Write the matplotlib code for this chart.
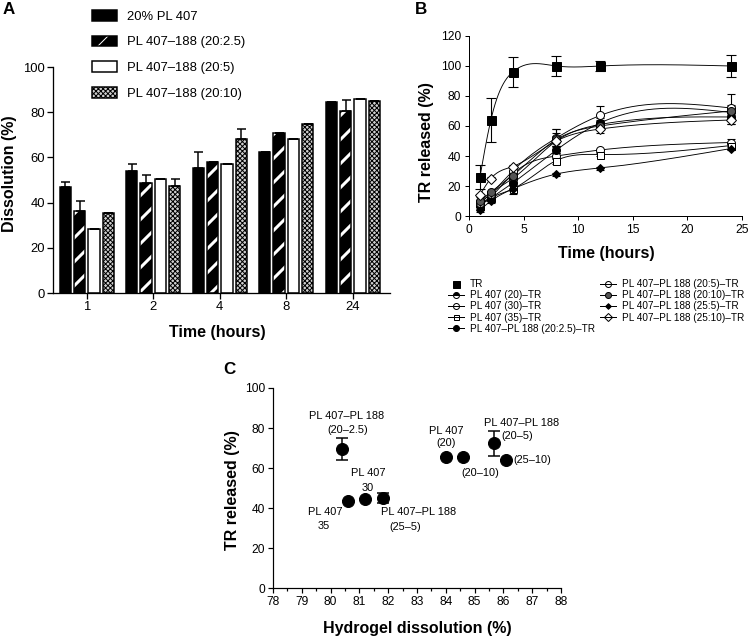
import numpy as np
import matplotlib
matplotlib.use("Agg")
import matplotlib.pyplot as plt
from matplotlib.patches import Rectangle
from matplotlib.lines import Line2D
from matplotlib.ticker import MultipleLocator

plt.rcParams['font.family'] = ['Liberation Sans', 'DejaVu Sans']

# ---------------- panel A data ----------------
a_times = ['1', '2', '4', '8', '24']
a_names = ['20% PL 407', 'PL 407\u2013188 (20:2.5)', 'PL 407\u2013188 (20:5)', 'PL 407\u2013188 (20:10)']
a_pl407 = [47, 54, 55.5, 62.5, 84.5]
a_pl407_err = [2, 3, 7, 0, 0]
a_25 = [36.5, 48.5, 58, 71, 80.5]
a_25_err = [4, 3.5, 0, 0, 5]
a_5 = [28.5, 50.5, 57, 68, 86]
a_5_err = [0, 0, 0, 0, 0]
a_10 = [35.5, 47.5, 68, 75, 85]
a_10_err = [0, 3, 4.5, 0, 0]

# ---------------- panel B data ----------------
b_time = [1, 2, 4, 8, 12, 24]
b_tr = [26, 64, 96, 100, 100, 100]
b_tr_err = [8, 14.5, 10, 6.5, 3.5, 7.5]
b_pl20 = [8, 15, 25, 50, 61, 66]
b_pl20_err = [1, 1, 2, 8, 3, 5]
b_pl30 = [8, 13, 28, 40, 44, 49]
b_pl30_err = [1, 1, 2, 2, 1, 2]
b_pl35 = [7, 12, 18, 37, 41, 47]
b_pl35_err = [1, 1, 3, 2, 1, 2]
b_m25 = [7, 12, 22, 44, 62, 69]
b_m25_err = [1, 2, 2, 3, 3, 4]
b_m5 = [9, 15, 30, 52, 67, 72]
b_m5_err = [2, 2, 3, 6, 6, 9]
b_m10 = [10, 16, 27, 51, 60, 70]
b_m10_err = [1, 1, 2, 4, 3, 4]
b_m255 = [4, 10, 18, 28, 32, 45]
b_m255_err = [1, 1, 1, 1, 1, 1]
b_m2510 = [14, 25, 33, 50, 58, 64]
b_m2510_err = [1, 1, 1, 3, 3, 3]
b_labels = ['TR', 'PL 407 (20)\u2013TR', 'PL 407 (30)\u2013TR', 'PL 407 (35)\u2013TR',
            'PL 407\u2013PL 188 (20:2.5)\u2013TR', 'PL 407\u2013PL 188 (20:5)\u2013TR',
            'PL 407\u2013PL 188 (20:10)\u2013TR', 'PL 407\u2013PL 188 (25:5)\u2013TR',
            'PL 407\u2013PL 188 (25:10)\u2013TR']

# ---------------- panel C data ----------------
c_diss = [80.41, 80.62, 81.19, 81.81, 84.0, 84.61, 85.69, 86.09]
c_rel = [69.5, 43.7, 44.3, 45.2, 65.7, 65.3, 72.3, 64.0]
c_err = [5.6, 0, 0, 2.5, 0, 0, 6.2, 0]
c_notes = [('PL 407\u2013PL 188', 80.55, 86.0), ('(20\u20132.5)', 80.58, 79.0),
           ('PL 407', 84.0, 78.7), ('(20)', 84.0, 72.3),
           ('PL 407\u2013PL 188', 86.62, 82.7), ('(20\u20135)', 86.49, 76.2),
           ('(25\u201310)', 87.02, 64.0), ('(20\u201310)', 85.2, 57.7),
           ('PL 407', 81.31, 57.3), ('30', 81.3, 50.2),
           ('PL 407', 79.82, 38.2), ('35', 79.76, 31.0),
           ('PL 407\u2013PL 188', 83.04, 38.2), ('(25\u20135)', 82.6, 30.7)]


def spline(x, y, n=300):
    # natural cubic spline, only used to draw the smooth connecting line
    x = np.asarray(x, float)
    y = np.asarray(y, float)
    h = np.diff(x)
    m = len(x)
    A = np.zeros((m, m))
    r = np.zeros(m)
    A[0, 0] = A[-1, -1] = 1
    for i in range(1, m - 1):
        A[i, i - 1] = h[i - 1]
        A[i, i] = 2 * (h[i - 1] + h[i])
        A[i, i + 1] = h[i]
        r[i] = 3 * ((y[i + 1] - y[i]) / h[i] - (y[i] - y[i - 1]) / h[i - 1])
    c = np.linalg.solve(A, r)
    b = (y[1:] - y[:-1]) / h - h * (2 * c[:-1] + c[1:]) / 3
    d = (c[1:] - c[:-1]) / (3 * h)
    xs = np.linspace(x[0], x[-1], n)
    idx = np.clip(np.searchsorted(x, xs) - 1, 0, m - 2)
    dx = xs - x[idx]
    return xs, y[idx] + b[idx] * dx + c[idx] * dx ** 2 + d[idx] * dx ** 3


fig = plt.figure(figsize=(749 / 72, 637 / 72), dpi=72)

# ======================= A =======================
axA = fig.add_axes([0.0708, 0.5400, 0.4499, 0.3548])
g = np.arange(len(a_times))
pitch = 0.215
w = 0.17
lw = 1.5
xs = [g + (k - 1.5) * pitch for k in range(4)]

axA.bar(xs[0], a_pl407, w, color='black', edgecolor='black', linewidth=lw, zorder=2)
with plt.rc_context({'hatch.linewidth': 3.0}):
    axA.bar(xs[1], a_25, w, facecolor='black', edgecolor='white', hatch='/', linewidth=0, zorder=2)
axA.bar(xs[1], a_25, w, fill=False, edgecolor='black', linewidth=lw, zorder=3)
axA.bar(xs[2], a_5, w, facecolor='white', edgecolor='black', linewidth=lw, zorder=2)
with plt.rc_context({'hatch.linewidth': 1.0}):
    axA.bar(xs[3], a_10, w, facecolor='#d0d0d0', edgecolor='black', hatch='xxxxx', linewidth=0, zorder=2)
axA.bar(xs[3], a_10, w, fill=False, edgecolor='black', linewidth=lw, zorder=3)

for xx, yy, ee in zip(xs, [a_pl407, a_25, a_5, a_10], [a_pl407_err, a_25_err, a_5_err, a_10_err]):
    axA.errorbar(xx, yy, yerr=[np.zeros(len(ee)), ee], fmt='none', ecolor='black',
                 elinewidth=1.5, capsize=4.5, capthick=1.5, zorder=4)

axA.set_xlim(-0.507, 4.56)
axA.set_ylim(0, 100)
axA.set_xticks(g)
axA.set_xticklabels(a_times)
axA.set_yticks(np.arange(0, 101, 20))
for s in ['top', 'right']:
    axA.spines[s].set_visible(False)
for s in ['left', 'bottom']:
    axA.spines[s].set_linewidth(1.3)
axA.tick_params(labelsize=13, length=6, width=1.3, pad=2)
axA.text(-0.1306, 0.53, 'Dissolution (%)', transform=axA.transAxes, rotation=90,
         ha='center', va='center', fontsize=16, fontweight='bold')
axA.text(0.487, -0.173, 'Time (hours)', transform=axA.transAxes,
         ha='center', va='center', fontsize=16, fontweight='bold')

hA = [Rectangle((0, 0), 1, 1, facecolor='black', edgecolor='black', linewidth=lw)]
with plt.rc_context({'hatch.linewidth': 3.0}):
    hA.append((Rectangle((0, 0), 1, 1, facecolor='black', edgecolor='white', hatch='/', linewidth=0),
               Rectangle((0, 0), 1, 1, fill=False, edgecolor='black', linewidth=lw)))
hA.append(Rectangle((0, 0), 1, 1, facecolor='white', edgecolor='black', linewidth=lw))
with plt.rc_context({'hatch.linewidth': 1.0}):
    hA.append((Rectangle((0, 0), 1, 1, facecolor='#d0d0d0', edgecolor='black', hatch='xxxxx', linewidth=0),
               Rectangle((0, 0), 1, 1, fill=False, edgecolor='black', linewidth=lw)))
fig.legend(hA, a_names, loc='upper left', bbox_to_anchor=(0.1228, 0.985), frameon=False,
           fontsize=13, handlelength=1.9, handleheight=0.92, handletextpad=0.77,
           labelspacing=1.0, borderpad=0, borderaxespad=0)

# ======================= B =======================
axB = fig.add_axes([0.6262, 0.6609, 0.3645, 0.2826])
b_series = [b_tr, b_pl20, b_pl30, b_pl35, b_m25, b_m5, b_m10, b_m255, b_m2510]
b_errs = [b_tr_err, b_pl20_err, b_pl30_err, b_pl35_err, b_m25_err, b_m5_err, b_m10_err,
          b_m255_err, b_m2510_err]
b_style = [dict(marker='s', ms=9, mfc='black'),
           dict(marker='o', ms=8, mfc='black', fillstyle='top', mfcalt='white'),
           dict(marker='o', ms=8, mfc='white'),
           dict(marker='s', ms=7, mfc='white'),
           dict(marker='o', ms=8, mfc='black'),
           dict(marker='o', ms=8, mfc='white'),
           dict(marker='o', ms=8, mfc='#555555'),
           dict(marker='D', ms=6, mfc='black'),
           dict(marker='D', ms=7, mfc='white')]

for k, (yy, ee) in enumerate(zip(b_series, b_errs)):
    sx, sy = spline(b_time, yy)
    axB.plot(sx, sy, color='black', lw=0.9, zorder=2)
    capsz = 5 if k == 0 else 4
    axB.errorbar(b_time, yy, yerr=ee, fmt='none', ecolor='black', elinewidth=1.1,
                 capsize=capsz, capthick=1.1, zorder=3)
    st = b_style[k]
    kw = dict(marker=st['marker'], ms=st['ms'], mfc=st['mfc'], mec='black', mew=1.0,
              linestyle='none', zorder=4 if k else 5)
    if 'fillstyle' in st:
        kw['fillstyle'] = st['fillstyle']
        kw['markerfacecoloralt'] = st['mfcalt']
    axB.plot(b_time, yy, **kw)

axB.set_xlim(0, 25)
axB.set_ylim(0, 120)
axB.set_xticks(np.arange(0, 26, 5))
axB.set_yticks(np.arange(0, 121, 20))
for s in ['top', 'right']:
    axB.spines[s].set_visible(False)
for s in ['left', 'bottom']:
    axB.spines[s].set_linewidth(1.0)
axB.tick_params(labelsize=12, length=4, width=1.0, pad=4)
axB.text(-0.154, 0.41, 'TR released (%)', transform=axB.transAxes, rotation=90,
         ha='center', va='center', fontsize=16, fontweight='bold')
axB.text(0.502, -0.206, 'Time (hours)', transform=axB.transAxes,
         ha='center', va='center', fontsize=16, fontweight='bold')

hB = []
for k, st in enumerate(b_style):
    mfc = st['mfc'] if st['mfc'] != 'white' else 'none'
    kw = dict(color='black', lw=1.0, marker=st['marker'], ms=st['ms'] - 2, mfc=mfc,
              mec='black', mew=1.0)
    if k == 0:
        kw['linestyle'] = 'none'
    if 'fillstyle' in st:
        kw['fillstyle'] = st['fillstyle']
        kw['markerfacecoloralt'] = st['mfcalt']
    hB.append(Line2D([], [], **kw))
fig.legend(hB, b_labels, loc='upper left', bbox_to_anchor=(0.598, 0.562), ncol=2,
           frameon=False, fontsize=10, handlelength=1.6, handletextpad=0.6,
           labelspacing=0.12, columnspacing=0.5, borderpad=0, borderaxespad=0)

# ======================= C =======================
axC = fig.add_axes([0.3645, 0.0769, 0.3845, 0.3140])
axC.errorbar(c_diss, c_rel, yerr=c_err, fmt='o', ms=12, color='black', ecolor='black',
             elinewidth=1.5, capsize=6, capthick=1.5, zorder=3)
for txt, tx, ty in c_notes:
    axC.text(tx, ty, txt, ha='center', va='center', fontsize=11)
axC.set_xlim(78, 88)
axC.set_ylim(0, 100)
axC.set_xticks(np.arange(78, 89, 1))
axC.xaxis.set_minor_locator(MultipleLocator(0.5))
axC.set_yticks(np.arange(0, 101, 20))
for s in ['top', 'right']:
    axC.spines[s].set_visible(False)
for s in ['left', 'bottom']:
    axC.spines[s].set_linewidth(1.2)
axC.tick_params(labelsize=12, length=5, width=1.2, pad=3)
axC.tick_params(which='minor', length=3, width=1.2)
axC.text(-0.139, 0.49, 'TR released (%)', transform=axC.transAxes, rotation=90,
         ha='center', va='center', fontsize=16, fontweight='bold')
axC.text(0.5, -0.2, 'Hydrogel dissolution (%)', transform=axC.transAxes,
         ha='center', va='center', fontsize=16, fontweight='bold')

# panel letters
fig.text(9 / 749, 1 - 9 / 637, 'A', ha='center', va='center', fontsize=17, fontweight='bold')
fig.text(421 / 749, 1 - 9 / 637, 'B', ha='center', va='center', fontsize=17, fontweight='bold')
fig.text(229 / 749, 1 - 369 / 637, 'C', ha='center', va='center', fontsize=17, fontweight='bold')

fig.savefig('out.png', dpi=72)
